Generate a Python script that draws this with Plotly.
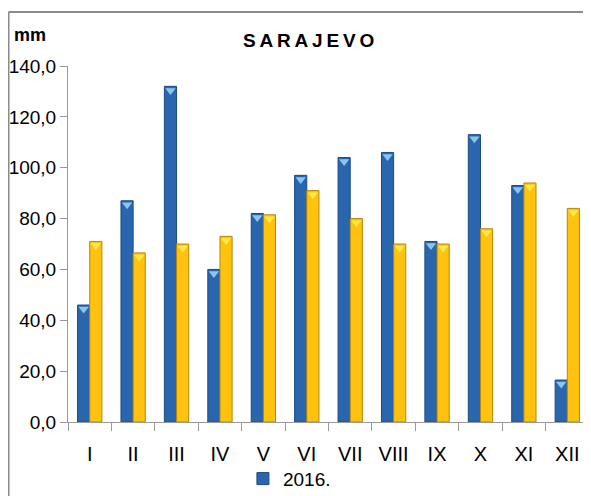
import plotly.graph_objects as go

months = ["I", "II", "III", "IV", "V", "VI", "VII", "VIII", "IX", "X", "XI", "XII"]
values_2016 = [46, 87, 132, 60, 82, 97, 104, 106, 71, 113, 93, 16.5]
values_normal = [71, 66.5, 70, 73, 81.5, 91, 80, 70, 70, 76, 94, 84]
y_tick_vals = [0, 20, 40, 60, 80, 100, 120, 140]
y_tick_text = ["0,0", "20,0", "40,0", "60,0", "80,0", "100,0", "120,0", "140,0"]

FONT = "Liberation Sans, Arial, sans-serif"
BLUE = "#2A66AE"
BLUE_EDGE = "#1B4A85"
BLUE_TIP = "#8CC4F0"
YELLOW = "#FFC20E"
YELLOW_EDGE = "#B8860B"
YELLOW_TIP = "#FFE94A"

fig = go.Figure()
fig.add_bar(x=months, y=values_2016, name="2016.", offsetgroup="a",
            marker=dict(color=BLUE, line=dict(color=BLUE_EDGE, width=1)))
fig.add_bar(x=months, y=values_normal, name="normal", offsetgroup="b", showlegend=False,
            marker=dict(color=YELLOW, line=dict(color=YELLOW_EDGE, width=1)))
# bevel tips
fig.add_scatter(x=months, y=[v - 1.6 for v in values_2016], mode="markers", offsetgroup="a",
                marker=dict(symbol="triangle-down", size=9, color=BLUE_TIP, line=dict(width=0)),
                showlegend=False, hoverinfo="skip")
fig.add_scatter(x=months, y=[v - 1.6 for v in values_normal], mode="markers", offsetgroup="b",
                marker=dict(symbol="triangle-down", size=9, color=YELLOW_TIP, line=dict(width=0)),
                showlegend=False, hoverinfo="skip")

fig.update_layout(
    width=583, height=488,
    margin=dict(l=60, r=2, t=58, b=74, autoexpand=False),
    paper_bgcolor="white", plot_bgcolor="white",
    barmode="group", bargap=0.44, bargroupgap=0,
    scattermode="group", scattergap=0.44,
    font=dict(family=FONT, color="black"),
    showlegend=True,
    legend=dict(orientation="h", x=0.425, xanchor="center", y=-0.106, yanchor="top",
                font=dict(family=FONT, size=19), itemwidth=30, bgcolor="rgba(0,0,0,0)"),
    shapes=[
        dict(type="line", xref="paper", yref="paper", x0=-0.1142, x1=1.01, y0=1.1517, y1=1.1517,
             line=dict(color="#8a8a8a", width=2)),
        dict(type="line", xref="paper", yref="paper", x0=-0.1142, x1=-0.1142, y0=1.1517, y1=-0.21,
             line=dict(color="#8a8a8a", width=2)),
    ],
    annotations=[
        dict(text="<b>S\u2009A\u2009R\u2009A\u2009J\u2009E\u2009V\u2009O</b>", xref="paper", yref="paper",
             x=0.4607, y=1.073, xanchor="center", yanchor="middle", showarrow=False,
             font=dict(family=FONT, size=19)),
        dict(text="<b>mm</b>", xref="paper", yref="paper", x=-0.107, y=1.087,
             xanchor="left", yanchor="middle", showarrow=False,
             font=dict(family=FONT, size=18)),
    ],
)
fig.update_xaxes(type="category", showline=True, linecolor="#9a9a9a", linewidth=1,
                 ticks="outside", tickson="boundaries", ticklen=8, tickcolor="#9a9a9a",
                 ticklabelstandoff=14,
                 tickfont=dict(family=FONT, size=20), showgrid=False, zeroline=False,
                 automargin=False)
fig.update_yaxes(range=[0, 140], tickvals=y_tick_vals, ticktext=y_tick_text,
                 showline=True, linecolor="#9a9a9a", linewidth=1,
                 ticks="outside", ticklen=7, tickcolor="#9a9a9a",
                 tickfont=dict(family=FONT, size=19), showgrid=False, zeroline=False,
                 automargin=False)

fig.write_html("out.html")
